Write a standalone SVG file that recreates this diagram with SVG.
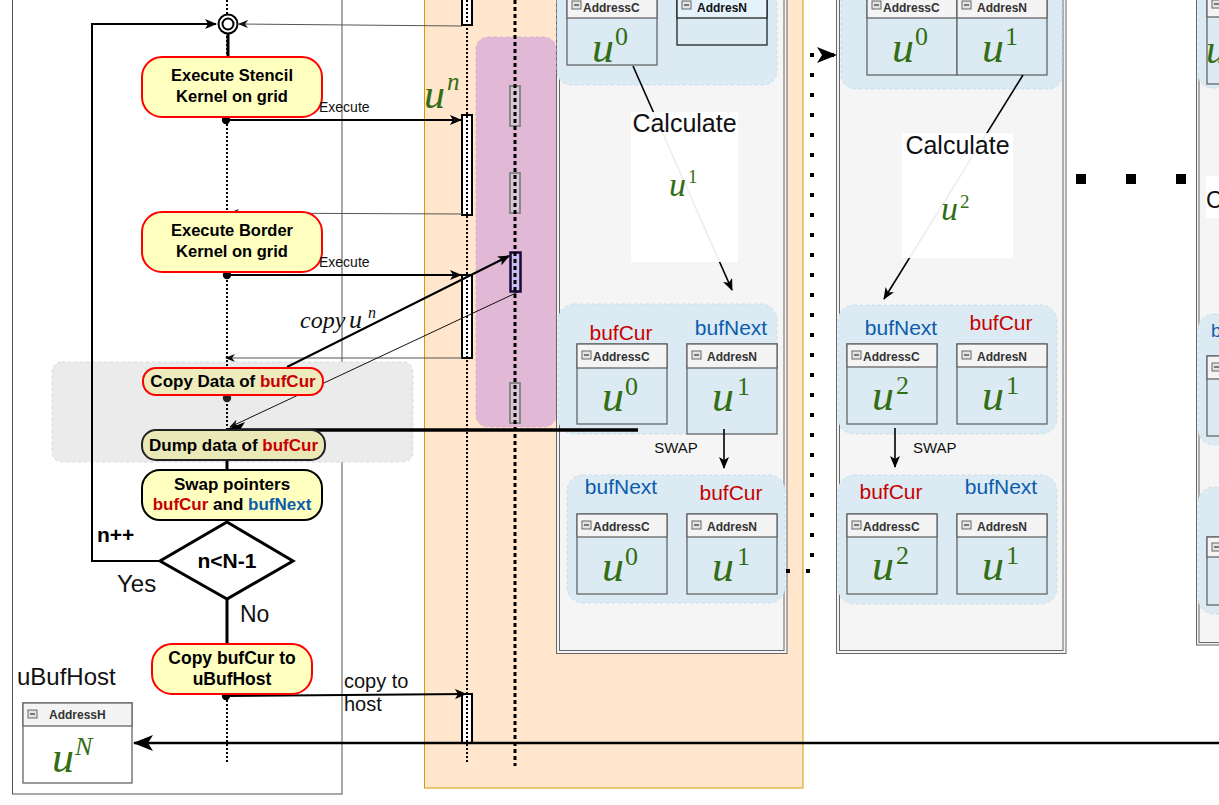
<svg xmlns="http://www.w3.org/2000/svg" width="1219" height="805" viewBox="0 0 1219 805">
<defs>
<style>
.sans{font-family:"Liberation Sans",Arial,sans-serif}
.nt{font-family:"Liberation Sans",Arial,sans-serif;font-weight:bold;font-size:16.5px;fill:#000;text-anchor:middle}
.red{fill:#c80000}
.blue{fill:#0b5cad}
.mu{font-family:"Liberation Serif","Times New Roman",serif;font-style:italic;fill:#336e14}
.ms{font-family:"Liberation Serif","Times New Roman",serif;fill:#336e14}
.hdr{font-family:"Liberation Sans",Arial,sans-serif;font-weight:bold;font-size:12px;fill:#333}
.grp{fill:#dbeaf3;stroke:#c8dcea;stroke-dasharray:3 3;stroke-width:1}
.body{fill:#dbeaf3;stroke:#666;stroke-width:1.3}
.head{fill:#f4f4f4;stroke:#666;stroke-width:1.3}
.frame{fill:#f5f5f5;stroke:#666;stroke-width:1}
.frin{fill:none;stroke:#666;stroke-width:1}
.act{fill:#fff;stroke:#000;stroke-width:2}
.gact{fill:#d8c8d4;stroke:#888;stroke-width:2}
.ret{fill:none;stroke:#555;stroke-width:1}
.thick{fill:none;stroke:#000;stroke-width:2}
.lbl{font-family:"Liberation Sans",Arial,sans-serif;fill:#111}
.mk{font-family:"Liberation Serif","Times New Roman",serif;font-style:italic;fill:#111}
</style>
<marker id="ah" markerWidth="12" markerHeight="10" refX="11" refY="5" orient="auto" markerUnits="userSpaceOnUse"><path d="M0,0 L12,5 L0,10 L3,5 z" fill="#000"/></marker>
<marker id="ahs" markerWidth="10" markerHeight="8" refX="9" refY="4" orient="auto" markerUnits="userSpaceOnUse"><path d="M0,0 L10,4 L0,8 L3,4 z" fill="#111"/></marker>
<marker id="ahb" markerWidth="20" markerHeight="16" refX="19" refY="8" orient="auto" markerUnits="userSpaceOnUse"><path d="M0,0 L20,8 L0,16 L5,8 z" fill="#000"/></marker>
<marker id="dot" markerWidth="10" markerHeight="10" refX="5" refY="5" markerUnits="userSpaceOnUse"><circle cx="5" cy="5" r="4.2" fill="#000"/></marker>
<g id="minus"><rect x="0" y="0" width="9" height="8" fill="#e4e4e4" stroke="#666" stroke-width="1"/><line x1="2" y1="4" x2="7" y2="4" stroke="#333" stroke-width="1.2"/></g>
</defs>

<rect x="0" y="0" width="1219" height="805" fill="#fff"/>

<!-- left frame -->
<rect id="hostFrame" x="12.5" y="-5" width="329.5" height="799" fill="none" stroke="#555" stroke-width="1"/>

<!-- orange device region -->
<rect id="device" x="424.5" y="-5" width="378.5" height="793" fill="#ffe6cc" stroke="#d79b00" stroke-width="1"/>

<!-- purple region -->
<rect id="purple" x="476" y="37" width="80" height="390" rx="12" fill="#e1b8d5" stroke="#d9b0cc" stroke-dasharray="3 3"/>

<!-- gray group -->
<rect id="grayGroup" x="52" y="362" width="361" height="100" rx="10" fill="#ebebeb" stroke="#d6d6e2" stroke-dasharray="3 3"/>

<!-- frame 1 -->
<g id="frame1">
<rect class="frame" x="556.5" y="-5" width="230.5" height="658.5"/>
<rect class="frin" x="559.5" y="-5" width="224.5" height="655.5"/>
<rect class="grp" x="557" y="-20" width="220" height="105" rx="14"/>
<g id="f1TopC"><rect class="body" x="567" y="-6" width="90" height="71"/><rect class="head" x="567" y="-6" width="90" height="24"/><use href="#minus" x="572" y="1"/><text class="hdr" x="583" y="12">AddressC</text>
<text class="mu" x="592" y="62" font-size="44">u</text><text class="ms" x="615" y="45" font-size="26">0</text></g>
<g id="f1TopN"><rect x="677" y="-6" width="90" height="51" fill="#dbeaf3" stroke="#222" stroke-width="1.3"/><rect x="677" y="-6" width="90" height="24" fill="#e4f3fb" stroke="#222" stroke-width="1.3"/><use href="#minus" x="682" y="1"/><text class="hdr" x="697" y="12" style="fill:#111">AddresN</text></g>

<rect class="grp" x="558" y="304" width="219" height="130" rx="16"/>
<text class="sans red" x="621" y="340" font-size="21" text-anchor="middle">bufCur</text>
<text class="sans blue" x="731" y="335" font-size="21" text-anchor="middle">bufNext</text>
<g id="f1MidC"><rect class="body" x="577" y="344" width="90" height="80"/><rect class="head" x="577" y="344" width="90" height="24"/><use href="#minus" x="582" y="351"/><text class="hdr" x="593" y="361">AddressC</text>
<text class="mu" x="602" y="411" font-size="44">u</text><text class="ms" x="625" y="395" font-size="26">0</text></g>
<g id="f1MidN"><rect class="body" x="687" y="344" width="90" height="90"/><rect class="head" x="687" y="344" width="90" height="24"/><use href="#minus" x="692" y="351"/><text class="hdr" x="707" y="361">AddresN</text>
<text class="mu" x="712" y="411" font-size="44">u</text><text class="ms" x="737" y="395" font-size="26">1</text></g>

<rect class="grp" x="567" y="475" width="218" height="128" rx="16"/>
<text class="sans blue" x="621" y="494" font-size="21" text-anchor="middle">bufNext</text>
<text class="sans red" x="731" y="500" font-size="21" text-anchor="middle">bufCur</text>
<g id="f1BotC"><rect class="body" x="577" y="514" width="90" height="80"/><rect class="head" x="577" y="514" width="90" height="23"/><use href="#minus" x="582" y="521"/><text class="hdr" x="593" y="531">AddressC</text>
<text class="mu" x="602" y="581" font-size="44">u</text><text class="ms" x="625" y="565" font-size="26">0</text></g>
<g id="f1BotN"><rect class="body" x="687" y="514" width="90" height="80"/><rect class="head" x="687" y="514" width="90" height="23"/><use href="#minus" x="692" y="521"/><text class="hdr" x="707" y="531">AddresN</text>
<text class="mu" x="712" y="581" font-size="44">u</text><text class="ms" x="737" y="565" font-size="26">1</text></g>
</g>

<!-- frame 2 -->
<g id="frame2">
<rect class="frame" x="836.5" y="-5" width="229.5" height="658.5"/>
<rect class="frin" x="839.5" y="-5" width="223.5" height="655.5"/>
<rect class="grp" x="841" y="-20" width="221" height="109" rx="14"/>
<g id="f2TopC"><rect class="body" x="867" y="-6" width="90" height="81"/><rect class="head" x="867" y="-6" width="90" height="24"/><use href="#minus" x="872" y="1"/><text class="hdr" x="883" y="12">AddressC</text>
<text class="mu" x="892" y="62" font-size="44">u</text><text class="ms" x="915" y="45" font-size="26">0</text></g>
<g id="f2TopN"><rect class="body" x="957" y="-6" width="90" height="81"/><rect class="head" x="957" y="-6" width="90" height="24"/><use href="#minus" x="962" y="1"/><text class="hdr" x="977" y="12">AddresN</text>
<text class="mu" x="982" y="62" font-size="44">u</text><text class="ms" x="1005" y="45" font-size="26">1</text></g>

<rect class="grp" x="838" y="305" width="219" height="129" rx="16"/>
<text class="sans blue" x="901" y="335" font-size="21" text-anchor="middle">bufNext</text>
<text class="sans red" x="1001" y="330" font-size="21" text-anchor="middle">bufCur</text>
<g id="f2MidC"><rect class="body" x="847" y="344" width="90" height="80"/><rect class="head" x="847" y="344" width="90" height="23"/><use href="#minus" x="852" y="351"/><text class="hdr" x="863" y="361">AddressC</text>
<text class="mu" x="872" y="410" font-size="44">u</text><text class="ms" x="896" y="394" font-size="26">2</text></g>
<g id="f2MidN"><rect class="body" x="957" y="344" width="90" height="80"/><rect class="head" x="957" y="344" width="90" height="23"/><use href="#minus" x="962" y="351"/><text class="hdr" x="977" y="361">AddresN</text>
<text class="mu" x="982" y="410" font-size="44">u</text><text class="ms" x="1006" y="394" font-size="26">1</text></g>

<rect class="grp" x="838" y="475" width="219" height="129" rx="16"/>
<text class="sans red" x="891" y="499" font-size="21" text-anchor="middle">bufCur</text>
<text class="sans blue" x="1001" y="494" font-size="21" text-anchor="middle">bufNext</text>
<g id="f2BotC"><rect class="body" x="847" y="514" width="90" height="80"/><rect class="head" x="847" y="514" width="90" height="23"/><use href="#minus" x="852" y="521"/><text class="hdr" x="863" y="531">AddressC</text>
<text class="mu" x="872" y="580" font-size="44">u</text><text class="ms" x="896" y="564" font-size="26">2</text></g>
<g id="f2BotN"><rect class="body" x="957" y="514" width="90" height="80"/><rect class="head" x="957" y="514" width="90" height="23"/><use href="#minus" x="962" y="521"/><text class="hdr" x="977" y="531">AddresN</text>
<text class="mu" x="982" y="580" font-size="44">u</text><text class="ms" x="1006" y="564" font-size="26">1</text></g>
</g>

<!-- frame 3 (partial, cut by the canvas edge) -->
<g id="frame3">
<rect class="frame" x="1196.5" y="-5" width="100" height="650"/>
<rect class="frin" x="1199" y="-5" width="95" height="647.5"/>
<rect class="grp" x="1198" y="-20" width="100" height="108" rx="14"/>
<rect class="body" x="1207" y="-6" width="90" height="90"/><rect class="head" x="1207" y="-6" width="90" height="23"/><use href="#minus" x="1212" y="0"/>
<text class="mu" x="1206" y="63" font-size="40">u</text>
<rect x="1206" y="176" width="40" height="42" fill="#fff"/>
<text class="lbl" x="1206" y="208" font-size="23">C</text>
<rect class="grp" x="1198" y="314" width="100" height="131" rx="16"/>
<text class="sans blue" x="1211" y="337" font-size="19">b</text>
<rect class="body" x="1207" y="356" width="90" height="80"/><rect class="head" x="1207" y="356" width="90" height="23"/><use href="#minus" x="1212" y="363"/>
<rect class="grp" x="1198" y="487" width="100" height="127" rx="16"/>
<rect class="body" x="1207" y="537" width="90" height="68"/><rect class="head" x="1207" y="537" width="90" height="20"/><use href="#minus" x="1212" y="543"/>
</g>

<!-- lifelines and activations -->
<g id="lifelines">
<rect class="act" x="462" y="-5" width="10" height="30"/>
<rect class="act" x="462" y="115" width="10" height="100"/>
<rect class="act" x="462" y="275" width="10" height="83"/>
<rect class="act" x="462" y="694" width="10" height="49"/>
<rect class="gact" x="510" y="86" width="10" height="40"/>
<rect class="gact" x="510" y="173" width="10" height="40"/>
<rect class="gact" x="510" y="383" width="10" height="40"/>
<rect x="510.5" y="252.5" width="10" height="39" fill="#cbbdf0" stroke="#1a0a3a" stroke-width="2.5"/>
<line x1="467" y1="0" x2="467" y2="764" stroke="#000" stroke-width="2" stroke-dasharray="2 2"/>
<line x1="515" y1="0" x2="515" y2="766" stroke="#000" stroke-width="3" stroke-dasharray="4 3"/>
<line x1="227" y1="0" x2="227" y2="764" stroke="#000" stroke-width="2" stroke-dasharray="2 2"/>
</g>

<!-- connectors -->
<g id="connectors">
<line x1="228" y1="34" x2="228" y2="57" stroke="#000" stroke-width="3"/>
<path class="thick" d="M160,561 H92 V24 H216" marker-end="url(#ah)" stroke-width="2.5"/>
<line x1="462" y1="26" x2="239" y2="24" class="ret" stroke="#777" marker-end="url(#ahs)"/>
<line x1="226" y1="120" x2="461" y2="120" class="thick" marker-start="url(#dot)" marker-end="url(#ah)"/>
<line x1="462" y1="214" x2="230" y2="213" class="ret" marker-end="url(#ahs)"/>
<line x1="227" y1="275" x2="461" y2="275" class="thick" marker-start="url(#dot)" marker-end="url(#ah)"/>
<line x1="462" y1="358" x2="226" y2="358" class="ret" marker-end="url(#ahs)"/>
<line x1="287" y1="367" x2="509" y2="256" class="thick" marker-end="url(#ah)"/>
<line x1="518" y1="292" x2="230" y2="427" stroke="#111" stroke-width="1" marker-end="url(#ahs)"/>
<line x1="638" y1="430" x2="226" y2="430" stroke="#000" stroke-width="3.5" marker-end="url(#ahb)"/>
<circle cx="227" cy="398" r="4.2" fill="#222"/>
<line x1="227" y1="459" x2="227" y2="471" stroke="#000" stroke-width="3"/>
<line x1="227" y1="599" x2="227" y2="644" stroke="#000" stroke-width="3"/>
<line x1="226" y1="696" x2="466" y2="694" class="thick" marker-start="url(#dot)" marker-end="url(#ah)"/>
<line x1="1219" y1="743" x2="134" y2="743" stroke="#000" stroke-width="2.5" marker-end="url(#ahb)"/>
<line x1="633" y1="66" x2="732" y2="290" stroke="#000" stroke-width="1.6" marker-end="url(#ah)"/>
<line x1="1023" y1="75" x2="884" y2="299" stroke="#000" stroke-width="1.6" marker-end="url(#ah)"/>
<line x1="724" y1="429" x2="724" y2="468" stroke="#000" stroke-width="1.6" marker-end="url(#ah)"/>
<line x1="895" y1="428" x2="895" y2="467" stroke="#000" stroke-width="1.6" marker-end="url(#ah)"/>
<path d="M786,571 H812 V55 H836" fill="none" stroke="#000" stroke-width="4" stroke-dasharray="4 16" marker-end="url(#ahb)"/>
</g>

<!-- label boxes for Calculate -->
<g id="calc1">
<rect x="631" y="112" width="107" height="150" fill="#fff" opacity="0.93"/>
<text class="lbl" x="684.5" y="132" font-size="25" text-anchor="middle">Calculate</text>
<text class="mu" x="669" y="196" font-size="34">u</text><text class="ms" x="688" y="183" font-size="19">1</text>
</g>
<g id="calc2">
<rect x="902" y="133" width="111" height="125" fill="#fff" opacity="0.93"/>
<text class="lbl" x="957.5" y="154" font-size="25" text-anchor="middle">Calculate</text>
<text class="mu" x="941" y="220" font-size="34">u</text><text class="ms" x="960" y="208" font-size="19">2</text>
</g>

<text class="lbl" x="676" y="453" font-size="15" text-anchor="middle">SWAP</text>
<text class="lbl" x="913" y="453" font-size="15">SWAP</text>

<g id="dots">
<rect x="1076" y="174" width="10" height="10" fill="#000"/>
<rect x="1126" y="174" width="10" height="10" fill="#000"/>
<rect x="1176" y="174" width="10" height="10" fill="#000"/>
</g>

<!-- u^n label -->
<text class="mu" x="424" y="108" font-size="42">u</text><text class="mu" x="447" y="90" font-size="25">n</text>

<!-- left nodes -->
<g id="finalState"><circle cx="228" cy="24" r="9.5" fill="#fff" stroke="#000" stroke-width="2"/><circle cx="228" cy="24" r="5.5" fill="#fff" stroke="#000" stroke-width="2"/></g>

<g id="stencil"><rect x="142" y="57" width="180" height="60" rx="20" fill="#ffffc0" stroke="#f00" stroke-width="2"/>
<text class="nt" x="232" y="81">Execute Stencil</text><text class="nt" x="232" y="102">Kernel on grid</text></g>
<text class="lbl" x="319" y="112" font-size="14">Execute</text>

<g id="border"><rect x="142" y="212" width="180" height="60" rx="20" fill="#ffffc0" stroke="#f00" stroke-width="2"/>
<text class="nt" x="232" y="236">Execute Border</text><text class="nt" x="232" y="257">Kernel on grid</text></g>
<text class="lbl" x="319" y="267" font-size="14">Execute</text>

<text class="mk" x="300" y="328" font-size="24">copy</text><text class="mk" x="349" y="328" font-size="26">u</text><text class="mk" x="368" y="318" font-size="16">n</text>

<g id="copyData"><rect x="143" y="368" width="180" height="27" rx="13" fill="#eeebbd" stroke="#f00" stroke-width="2"/>
<text class="nt" x="233" y="387" style="font-size:17px">Copy Data of <tspan class="red">bufCur</tspan></text></g>

<g id="dump"><rect x="142" y="430" width="183" height="30" rx="14" fill="#ebe8b8" stroke="#222" stroke-width="2"/>
<text class="nt" x="233.5" y="451" style="font-size:17px">Dump data of <tspan class="red">bufCur</tspan></text></g>

<g id="swap"><rect x="142" y="470" width="180" height="50" rx="18" fill="#ffffc0" stroke="#000" stroke-width="2"/>
<text class="nt" x="232" y="490" style="font-size:17px">Swap pointers</text>
<text class="nt" x="232" y="510" style="font-size:17px"><tspan class="red">bufCur</tspan> and <tspan class="blue">bufNext</tspan></text></g>

<g id="decision"><path d="M227,522 L293,561 L227,599 L160,561 Z" fill="#fff" stroke="#000" stroke-width="3"/>
<text class="nt" x="227" y="568" style="font-size:21px">n&lt;N-1</text></g>
<text class="sans" x="97" y="542" font-size="21" font-weight="bold">n++</text>
<text class="lbl" x="117" y="592" font-size="24">Yes</text>
<text class="lbl" x="240" y="622" font-size="23">No</text>

<g id="copyHost"><rect x="152" y="644" width="160" height="50" rx="20" fill="#ffffc0" stroke="#f00" stroke-width="2"/>
<text class="nt" x="232" y="664" style="font-size:17.5px">Copy bufCur to</text><text class="nt" x="232" y="685" style="font-size:17.5px">uBufHost</text></g>
<text class="lbl" x="344" y="688" font-size="20">copy to</text>
<text class="lbl" x="344" y="711" font-size="20">host</text>

<text class="lbl" x="17" y="685" font-size="24">uBufHost</text>
<g id="addressH"><rect x="23" y="703" width="109" height="80" fill="#fff" stroke="#666" stroke-width="1.3"/><rect x="23" y="703" width="109" height="23" fill="#f4f4f4" stroke="#666" stroke-width="1.3"/><use href="#minus" x="28" y="710"/>
<text class="hdr" x="49" y="719">AddressH</text>
<text class="mu" x="52" y="772" font-size="44">u</text><text class="mu" x="75" y="755" font-size="26">N</text></g>
</svg>
